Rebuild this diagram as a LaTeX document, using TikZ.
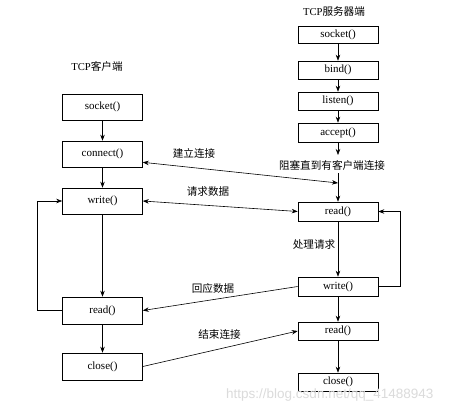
\documentclass[tikz,border=0pt]{standalone}
\usepackage{fontspec}
\setmainfont{Liberation Serif}
\newfontfamily\cjk{Noto Sans CJK SC}
\newfontfamily\wmfont{Liberation Sans}
\usetikzlibrary{arrows.meta,calc}
\begin{document}
\begin{tikzpicture}[x=1pt,y=-1pt,
  fn/.style={draw,line width=0.6pt,minimum width=80pt,inner sep=0pt,font=\fontsize{11}{12}\selectfont},
  cbox/.style={fn,minimum height=26pt},
  sbox/.style={fn,minimum height=18pt},
  lbl/.style={font=\cjk\fontsize{10.6}{12}\selectfont,inner sep=0pt},
  conn/.style={line width=0.6pt,-{Stealth[length=6pt,width=4.5pt]}},
  dconn/.style={line width=0.6pt,{Stealth[length=6pt,width=4.5pt]}-{Stealth[length=6pt,width=4.5pt]}}]
\useasboundingbox (0,0) rectangle (474,407);
\fill[white] (0,0) rectangle (474,407);
% titles
\node[lbl] (ctitle) at (97,66) {\rmfamily TCP\cjk 客户端};
\node[lbl] (stitle) at (334,11) {\rmfamily TCP\cjk 服务器端};
% client boxes
\node[cbox] (csock)  at (102.5,107)   {socket()};
\node[cbox] (cconn)  at (102.5,154)   {connect()};
\node[cbox] (cwrite) at (102.5,201)   {write()};
\node[cbox,minimum height=27pt] (cread)  at (102.5,310.5) {read()};
\node[cbox,minimum height=27pt] (cclose) at (102.5,366.5) {close()};
% server boxes
\node[sbox,minimum height=17pt] (ssock)   at (338,34.5)  {socket()};
\node[sbox] (sbind)   at (338,70)    {bind()};
\node[sbox] (slisten) at (338,101)   {listen()};
\node[sbox,minimum height=19pt] (saccept) at (338,132.5) {accept()};
\node[sbox,minimum height=19pt] (sread)   at (338,211.5) {read()};
\node[sbox,minimum height=19pt] (swrite)  at (338,286.5) {write()};
\node[sbox] (sread2)  at (338,331)   {read()};
\node[sbox] (sclose)  at (338,382)   {close()};
% labels
\node[lbl] (lblock) at (332,165) {阻塞直到有客户端连接};
\node[lbl] (lconn)  at (194,153) {建立连接};
\node[lbl] (lreq)   at (208,191) {请求数据};
\node[lbl] (lproc)  at (314,244) {处理请求};
\node[lbl] (lresp)  at (213,288) {回应数据};
\node[lbl] (lend)   at (219.5,334) {结束连接};
% client vertical
\draw[conn] (csock) -- (cconn);
\draw[conn] (cconn) -- (cwrite);
\draw[conn] (cwrite) -- (cread);
\draw[conn] (cread) -- (cclose);
% server vertical
\coordinate (sblk) at (338,155);
\coordinate (sjoin) at (338,183);
\coordinate (stop) at (338,173);
\draw[conn] (ssock) -- (sbind);
\draw[conn] (sbind) -- (slisten);
\draw[conn] (slisten) -- (saccept);
\draw[conn] (saccept) -- (sblk);
\draw[conn] (stop) -- (sread);
\draw[conn] (sread) -- (swrite);
\draw[conn] (swrite) -- (sread2);
\draw[conn] (sread2) -- (sclose);
% loops
\draw[conn] (swrite.east) -- ++(22,0) |- (sread.east);
\draw[conn] (cread.west) -- ++(-25,0) |- (cwrite.west);
% cross connectors
\coordinate (cconnE) at ($(cconn.south east)+(0,-5)$);
\draw[dconn] (cconnE) -- (sjoin);
\draw[dconn] (cwrite.east) -- (sread.west);
\draw[conn] (swrite.west) -- (cread.east);
\draw[conn] (cclose.east) -- (sread2.west);
% watermark
\node[font=\wmfont\fontsize{13.5}{14}\selectfont,text=black!14,inner sep=0pt,anchor=west] (wm) at (226,395) {https://blog.csdn.net/qq\_41488943};
\end{tikzpicture}
\end{document}
